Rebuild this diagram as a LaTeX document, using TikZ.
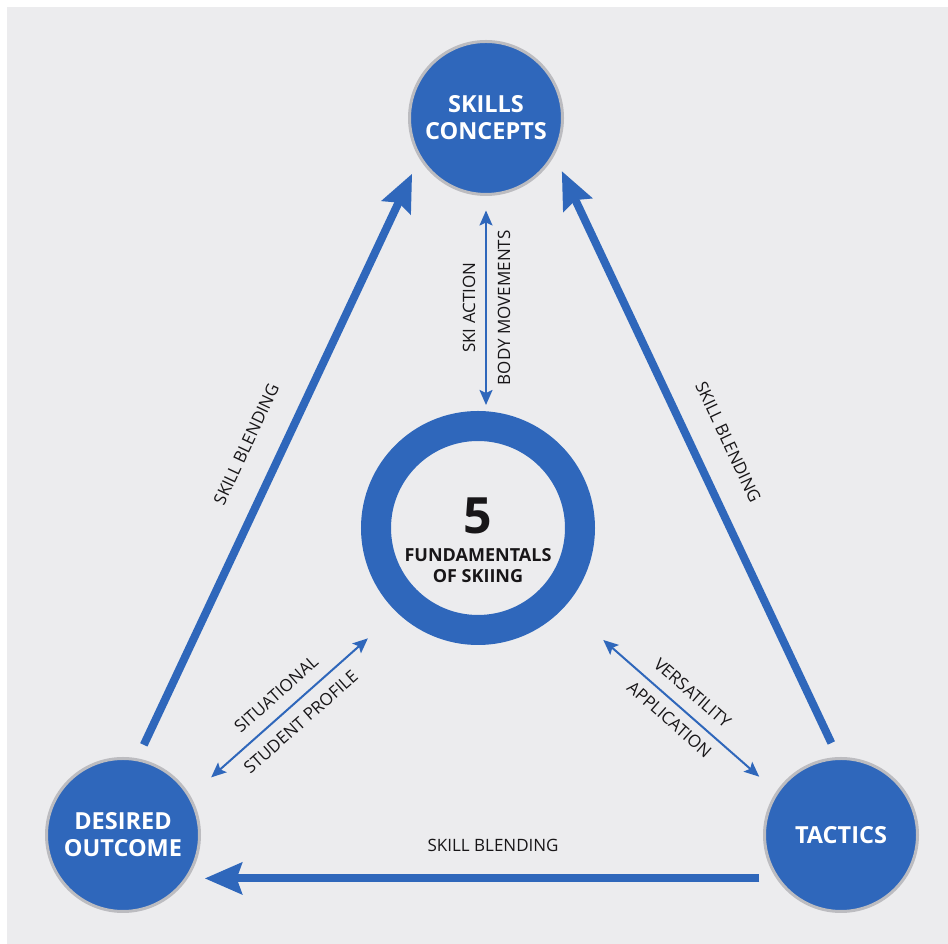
\documentclass[tikz,border=0pt]{standalone}
\usepackage{fontspec}
\setmainfont{Open Sans}
\usepackage{tikz}
\usetikzlibrary{arrows.meta}
\definecolor{skiblue}{RGB}{47,103,187}
\definecolor{paper}{RGB}{236,236,238}
\definecolor{rim}{RGB}{188,188,192}
\definecolor{ink}{RGB}{24,22,24}
\begin{document}
\begin{tikzpicture}[x=1pt, y=1pt,
		hub/.style={circle, fill=skiblue, draw=rim, line width=3pt,
			minimum size=153pt, inner sep=0pt, outer sep=16pt, align=center,
			text=white, font=\fontsize{23.5}{27}\selectfont\bfseries},
		core/.style={circle, draw=skiblue, fill=paper, line width=30pt,
			minimum size=204pt, outer sep=21pt},
		thickarr/.style={-{Stealth[length=37pt, width=31pt, inset=5pt]},
			line width=8pt, skiblue},
		thinarr/.style={{Stealth[length=15pt, width=13pt, inset=3pt]}-{Stealth[length=15pt, width=13pt, inset=3pt]},
			line width=2pt, skiblue},
		note/.style={sloped, text=ink, font=\fontsize{17}{20}\selectfont}
		]
		\useasboundingbox (0,0) rectangle (948,944);
		\fill[paper] (7,0) rectangle (948,937);
		\node[hub] (sk) at (486,826) {SKILLS\\CONCEPTS};
		\node[hub] (out) at (123,109) {DESIRED\\OUTCOME};
		\node[hub] (tac) at (841,109) {TACTICS};
		\node[core] (fund) at (478,416) {};
		\node[align=center, text=ink, font=\fontsize{18}{20.5}\selectfont\bfseries] (fs) at ([yshift=-12pt]fund.center)
			{{\fontsize{50}{50}\selectfont 5}\\[8pt]FUNDAMENTALS\\OF SKIING};
		\draw[thickarr] (out.77.7) -- node[note, yshift=35pt]{SKILL BLENDING} (sk.217.1);
		\draw[thickarr] (tac.96.7) -- node[note, yshift=35pt]{SKILL BLENDING} (sk.325.2);
		\draw[thickarr] (tac.208) -- node[note, pos=0.48, yshift=33pt]{SKILL BLENDING} (out.332);
		\draw[thinarr] (sk.south |- fund.north) -- node[note, yshift=17pt]{SKI ACTION}
			node[note, yshift=-18pt]{BODY MOVEMENTS} (sk.south);
		\draw[thinarr, shorten <=13pt, shorten >=33pt] (out.32.6) -- node[note, pos=0.457, yshift=19pt]{SITUATIONAL}
			node[note, pos=0.457, yshift=-18pt]{STUDENT PROFILE} (fund.226.3);
		\draw[thinarr, shorten <=45pt, shorten >=8pt] (fund.-42.3) -- node[note, pos=0.565, yshift=19pt]{VERSATILITY}
			node[note, pos=0.565, yshift=-16pt]{APPLICATION} (tac.145);
\end{tikzpicture}
\end{document}
